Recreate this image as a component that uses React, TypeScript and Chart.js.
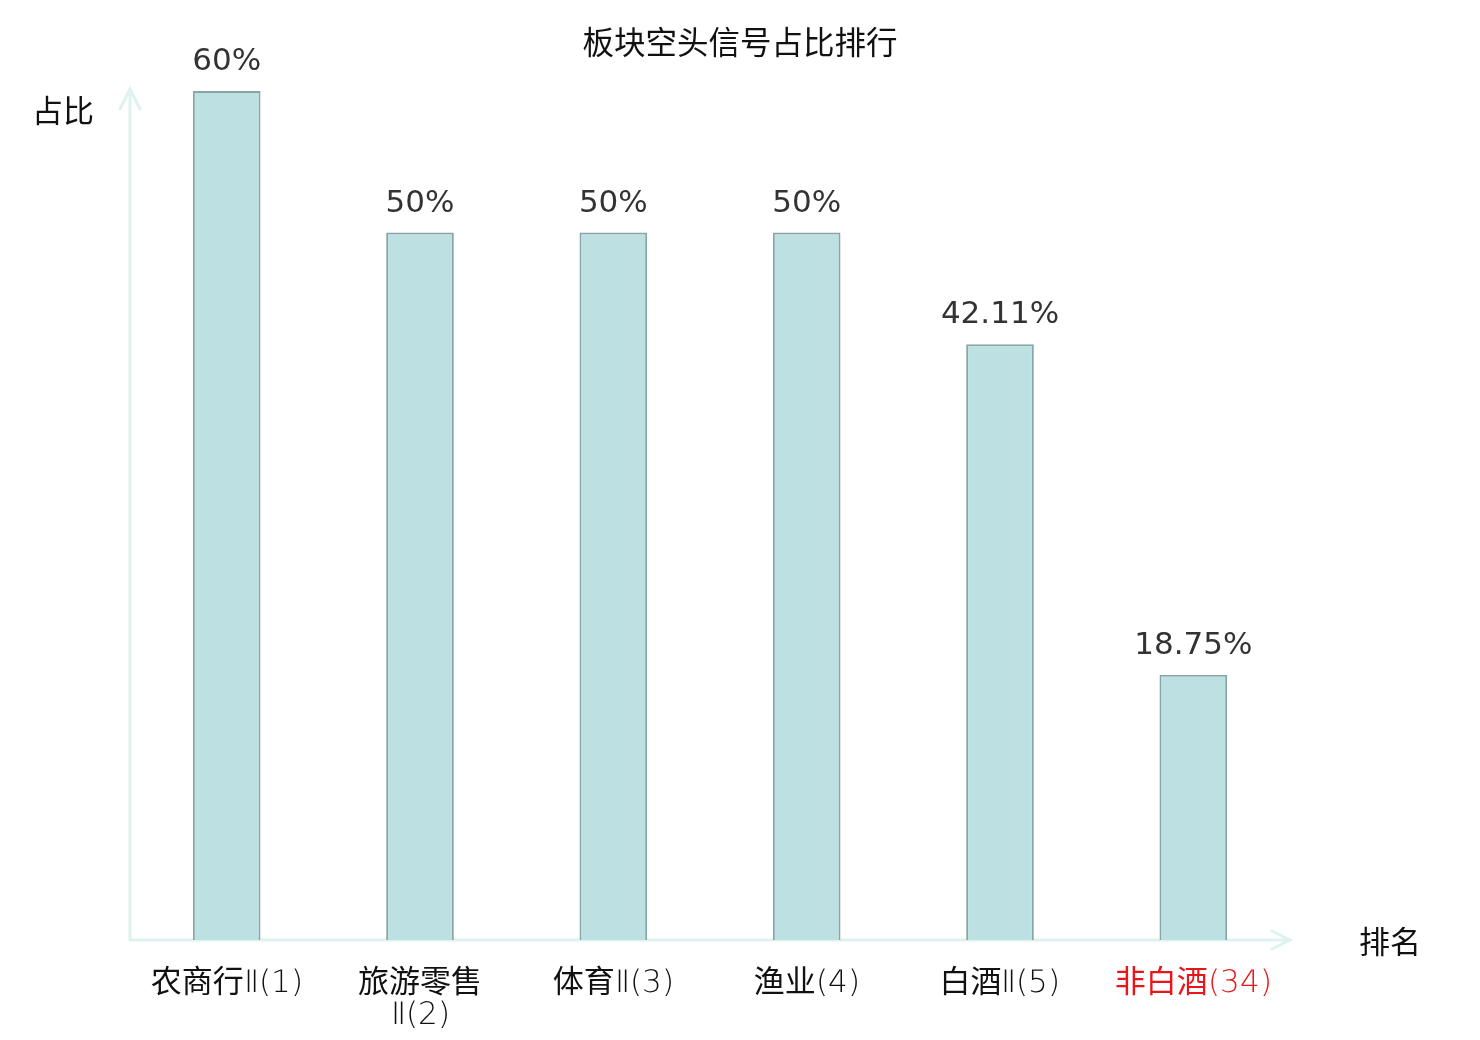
import React, { useEffect, useRef } from "react";
import { Chart, registerables, Plugin } from "chart.js";

Chart.register(...registerables);

const categories: (string | string[])[] = [
  "农商行Ⅱ(1)",
  ["旅游零售", "Ⅱ(2)"],
  "体育Ⅱ(3)",
  "渔业(4)",
  "白酒Ⅱ(5)",
  "非白酒(34)",
];
const shortRatio = [60, 50, 50, 50, 42.11, 18.75];
const valueLabels = ["60%", "50%", "50%", "50%", "42.11%", "18.75%"];
const highlightIndex = 5;

const cjk = '"Noto Sans CJK SC", "DejaVu Sans", sans-serif';
const tickFamily = '"DJLight", "Noto Sans CJK SC", sans-serif';
const axisColor = "#def2ef";

// thin digits in the category labels come from DejaVu's ExtraLight face
const fontCss = `@font-face { font-family: "DJLight"; src: local("DejaVu Sans ExtraLight"), local("DejaVuSans-ExtraLight"); }`;

const decorPlugin: Plugin<"bar"> = {
  id: "decor",
  beforeDatasetsDraw(chart) {
    const { ctx, chartArea } = chart;
    const x0 = chartArea.left;
    const y0 = chartArea.bottom;
    const yTop = chartArea.top - 2;
    const xEnd = chartArea.right;
    ctx.save();
    ctx.strokeStyle = axisColor;
    ctx.lineWidth = 3;
    ctx.lineCap = "round";
    ctx.beginPath();
    ctx.moveTo(x0, y0);
    ctx.lineTo(x0, yTop);
    ctx.moveTo(x0 - 10, yTop + 20);
    ctx.lineTo(x0, yTop);
    ctx.lineTo(x0 + 10, yTop + 20);
    ctx.moveTo(x0, y0);
    ctx.lineTo(xEnd, y0);
    ctx.moveTo(xEnd - 18, y0 - 9);
    ctx.lineTo(xEnd, y0);
    ctx.lineTo(xEnd - 18, y0 + 9);
    ctx.stroke();
    ctx.restore();
  },
  afterDatasetsDraw(chart) {
    const { ctx } = chart;
    const meta = chart.getDatasetMeta(0);
    ctx.save();
    ctx.textAlign = "center";
    ctx.textBaseline = "middle";
    ctx.fillStyle = "#333333";
    ctx.font = '31px "DejaVu Sans", sans-serif';
    meta.data.forEach((bar, i) => {
      ctx.fillText(valueLabels[i], bar.x, bar.y - 29);
    });

    ctx.fillStyle = "#111111";
    ctx.font = `31.5px ${cjk}`;
    ctx.fillText("板块空头信号占比排行", 740, 42);
    ctx.font = `31px ${cjk}`;
    ctx.fillText("占比", 63, 110);
    ctx.fillText("排名", 1390, 941);
    ctx.restore();
  },
};

export default function App() {
  const canvasRef = useRef<HTMLCanvasElement | null>(null);
  const chartRef = useRef<Chart | null>(null);

  useEffect(() => {
    let cancelled = false;
    const style = document.createElement("style");
    style.textContent = fontCss;
    document.head.appendChild(style);

    const build = () => {
      if (cancelled || !canvasRef.current) return;
      chartRef.current = new Chart(canvasRef.current, {
        type: "bar",
        data: {
          labels: categories,
          datasets: [
            {
              label: "占比",
              data: shortRatio,
              backgroundColor: "#bde0e3",
              borderColor: "#8aa5a6",
              borderWidth: 2,
              barPercentage: 0.35,
              categoryPercentage: 1,
            },
          ],
        },
        options: {
          responsive: true,
          maintainAspectRatio: false,
          animation: false,
          layout: { padding: { top: 91, left: 130, right: 190, bottom: 0 } },
          plugins: {
            legend: { display: false },
            title: { display: false },
            tooltip: { enabled: false },
          },
          scales: {
            x: {
              grid: { display: false, drawTicks: false },
              border: { display: false },
              ticks: {
                padding: 28,
                autoSkip: false,
                maxRotation: 0,
                color: (c) => (c.index === highlightIndex ? "#e8161a" : "#111111"),
                font: { family: tickFamily, size: 31, lineHeight: "32px" },
              },
              afterFit(scale) {
                scale.height = 100;
              },
            },
            y: {
              display: false,
              min: 0,
              max: 60,
            },
          },
        },
        plugins: [decorPlugin],
      });
    };

    document.fonts.load('31px "DJLight"', "(1)Ⅱ").then(build, build);

    return () => {
      cancelled = true;
      chartRef.current?.destroy();
      style.remove();
    };
  }, []);

  return (
    <div style={{ position: "fixed", left: 0, top: 0, width: 1480, height: 1040, background: "#fff" }}>
      <canvas ref={canvasRef} />
    </div>
  );
}
